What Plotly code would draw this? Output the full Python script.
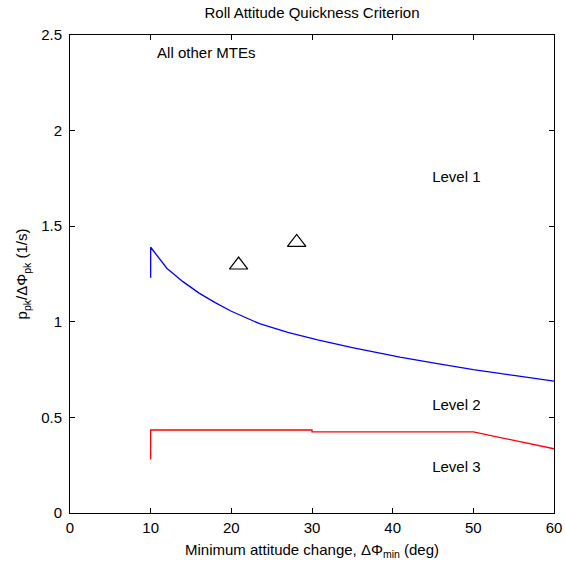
import plotly.graph_objects as go

# Level 1/2 boundary (blue)
l12_x = [10, 10, 12, 14, 16, 18, 20, 23.5, 27, 30.7, 35, 40.9, 45, 50, 55, 60]
l12_y = [1.23, 1.39, 1.28, 1.21, 1.15, 1.10, 1.055, 0.99, 0.945, 0.905, 0.865, 0.815, 0.785, 0.75, 0.72, 0.69]

# Level 2/3 boundary (red)
l23_x = [10, 10, 30, 30, 50, 60]
l23_y = [0.28, 0.434, 0.434, 0.424, 0.424, 0.336]

# Data points (triangles)
pts_x = [20.9, 28.1]
pts_y = [1.297, 1.415]

# Region labels
lab_x = [10.8, 44.9, 44.9, 44.9]
lab_y = [2.4, 1.75, 0.56, 0.235]
lab_t = ["All other MTEs", "Level 1", "Level 2", "Level 3"]

x_ticks = [0, 10, 20, 30, 40, 50, 60]
y_ticks = [0, 0.5, 1, 1.5, 2, 2.5]
y_tick_text = ["0", "0.5", "1", "1.5", "2", "2.5"]

FONT = "Liberation Sans, Arial, sans-serif"
FS = 15

fig = go.Figure()
fig.add_trace(go.Scatter(x=l12_x, y=l12_y, mode="lines",
                         line=dict(color="#0000ff", width=1.3), showlegend=False))
fig.add_trace(go.Scatter(x=l23_x, y=l23_y, mode="lines",
                         line=dict(color="#ff0000", width=1.3), showlegend=False))
fig.add_trace(go.Scatter(x=pts_x, y=pts_y, mode="markers",
                         marker=dict(symbol="triangle-up-open", size=16,
                                     color="#000000", line=dict(width=1.2)),
                         showlegend=False))
fig.add_trace(go.Scatter(x=lab_x, y=lab_y, mode="text", text=lab_t,
                         textposition="middle right",
                         textfont=dict(family=FONT, size=FS, color="#000"),
                         showlegend=False))

axis_common = dict(showline=True, linecolor="#000", linewidth=1, mirror="ticks",
                   ticks="inside", ticklen=5, tickcolor="#000", showgrid=False,
                   zeroline=False, automargin=False,
                   tickfont=dict(family=FONT, size=FS, color="#000"))

fig.update_xaxes(range=[0, 60], tickvals=x_ticks, ticklabelstandoff=1, **axis_common,
                 title=dict(text="Minimum attitude change, ΔΦ<sub>min</sub> (deg)",
                            font=dict(family=FONT, size=FS, color="#000"), standoff=9))
fig.update_yaxes(range=[0, 2.5], tickvals=y_ticks, ticktext=y_tick_text,
                 ticklabelstandoff=4, **axis_common,
                 title=dict(text="p<sub>pk</sub>/ΔΦ<sub>pk</sub> (1/s)",
                            font=dict(family=FONT, size=FS, color="#000"), standoff=9))

fig.update_layout(
    template="none",
    width=565, height=566, autosize=False,
    margin=dict(l=70, r=11, t=35, b=53),
    paper_bgcolor="#fff", plot_bgcolor="#fff",
    title=dict(text="Roll Attitude Quickness Criterion", x=312 / 565,
               xanchor="center", y=1 - 13 / 566, yanchor="middle",
               font=dict(family=FONT, size=FS, color="#000")),
    font=dict(family=FONT, size=FS, color="#000"),
)

fig.write_html("out.html")
